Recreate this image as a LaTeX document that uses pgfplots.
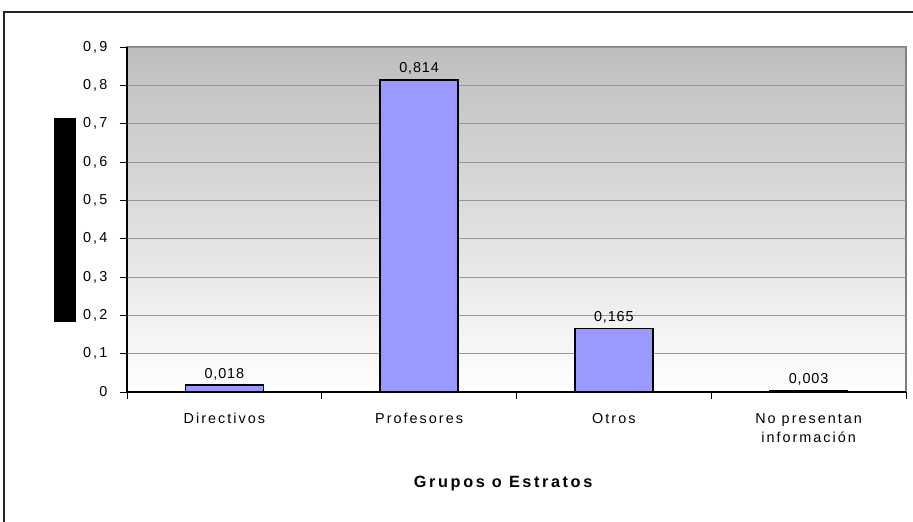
\documentclass[border=0pt]{standalone}
\usepackage{pgfplots}
\pgfplotsset{compat=1.18}
\usepackage{fontspec}
\setmainfont{Liberation Sans}
\newfontfamily\wordfont[LetterSpace=14]{Liberation Sans}
\newfontfamily\numfont[LetterSpace=6]{Liberation Sans}
\newfontfamily\labfont[LetterSpace=16]{Liberation Sans}

\definecolor{barblue}{RGB}{153,153,255}
\definecolor{plottop}{RGB}{190,190,190}
\definecolor{gridgray}{RGB}{150,150,150}

\begin{document}
\begin{tikzpicture}[x=0.75pt,y=0.75pt]
% picture area in px, origin at the lower left corner of the plot area
\path[use as bounding box] (-127,-129) rectangle (786,392);
\clip (-127,-129) rectangle (786,392);
\draw[line width=1.1pt, black!85] (-123,-300) -- (-123,380) -- (900,380);
\begin{axis}[
  at={(0,0)}, anchor=south west,
  scale only axis,
  width=584.25pt, height=258.75pt,
  xmin=-0.5, xmax=3.5,
  ymin=0, ymax=0.9,
  ybar, bar width=0.4,
  axis x line*=bottom, axis y line*=left,
  axis line style={-, black, line width=0.9pt},
  axis background/.style={top color=plottop, bottom color=white, draw=gray, line width=1.1pt},
  ymajorgrids,
  grid style={gridgray, line width=0.7pt},
  xtick={-0.5,0.5,1.5,2.5,3.5},
  x tick label as interval,
  xticklabels={Directivos,Profesores,Otros,No presentan\\información,{}},
  ytick={0,0.1,0.2,0.3,0.4,0.5,0.6,0.7,0.8,0.9},
  tick align=outside,
  major tick length=5.25pt,
  tick style={black, line width=0.7pt},
  /pgf/number format/assume math mode=true,
  yticklabel style={font=\wordfont\fontsize{10.8}{13}\selectfont, xshift=-6pt,
    /pgf/number format/.cd, use comma, fixed, precision=1},
  xticklabel style={font=\wordfont\fontsize{10.8}{14.25}\selectfont,
    align=center, anchor=north, inner sep=0pt, yshift=-10.5pt},
  nodes near coords,
  every node near coord/.append style={font=\numfont\fontsize{10.8}{13}\selectfont,
    anchor=south, inner sep=0pt, yshift=3.3pt,
    /pgf/number format/.cd, use comma, fixed, fixed zerofill, precision=3},
  xlabel={\bfseries Grupos o Estratos},
  xlabel style={font=\labfont\fontsize{12.2}{14}\selectfont,
    at={(axis description cs:0.5,0)}, anchor=center, yshift=-68.5pt, xshift=-10pt},
  ylabel={\rule{153pt}{16.5pt}},
  ylabel style={at={(axis description cs:0,0.5)}, anchor=center, inner sep=0pt,
    yshift=46.5pt},
]
\addplot[fill=barblue, draw=black, line width=1.1pt]
  coordinates {(0,0.018) (1,0.814) (2,0.165) (3,0.003)};
\end{axis}
\end{tikzpicture}
\end{document}
